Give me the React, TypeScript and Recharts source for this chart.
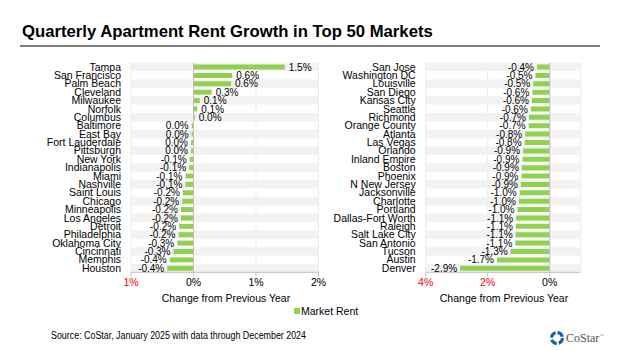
import React from 'react'
import {
  Bar,
  BarChart,
  CartesianGrid,
  LabelList,
  ReferenceArea,
  ReferenceLine,
  XAxis,
  YAxis
} from 'recharts'

const leftMarkets = [
  'Tampa', 'San Francisco', 'Palm Beach', 'Cleveland', 'Milwaukee', 'Norfolk',
  'Columbus', 'Baltimore', 'East Bay', 'Fort Lauderdale', 'Pittsburgh', 'New York',
  'Indianapolis', 'Miami', 'Nashville', 'Saint Louis', 'Chicago', 'Minneapolis',
  'Los Angeles', 'Detroit', 'Philadelphia', 'Oklahoma City', 'Cincinnati', 'Memphis',
  'Houston'
]
const leftRent = [
  1.46, 0.62, 0.6, 0.29, 0.1, 0.06, 0.02, -0.03, -0.03, -0.04, -0.04, -0.06, -0.07,
  -0.13, -0.13, -0.17, -0.18, -0.2, -0.2, -0.23, -0.24, -0.26, -0.32, -0.38, -0.42
]

const rightMarkets = [
  'San Jose', 'Washington DC', 'Louisville', 'San Diego', 'Kansas City', 'Seattle',
  'Richmond', 'Orange County', 'Atlanta', 'Las Vegas', 'Orlando', 'Inland Empire',
  'Boston', 'Phoenix', 'N New Jersey', 'Jacksonville', 'Charlotte', 'Portland',
  'Dallas-Fort Worth', 'Raleigh', 'Salt Lake City', 'San Antonio', 'Tucson', 'Austin',
  'Denver'
]
const rightRent = [
  -0.41, -0.46, -0.53, -0.56, -0.57, -0.61, -0.67, -0.68, -0.79, -0.81, -0.86, -0.88,
  -0.9, -0.91, -0.93, -0.97, -0.99, -1.04, -1.08, -1.09, -1.1, -1.11, -1.26, -1.7, -2.89
]

const leftTicks = [-1, 0, 1, 2]
const rightTicks = [-4, -2, 0]

const FONT = "Arial, 'Liberation Sans', sans-serif"
const GREEN = '#92D050'

const fmt = (v: number) => {
  const s = v.toFixed(1)
  return (s === '-0.0' ? '0.0' : s) + '%'
}

const ValueLabel = (props: any) => {
  const { x, y, width, height, value } = props
  const v = Number(value)
  const x0 = Math.min(x, x + width)
  const x1 = Math.max(x, x + width)
  const pos = v >= 0
  return (
    <text
      x={pos ? x1 + 4 : x0 - 3}
      y={y + height / 2}
      dy="0.36em"
      textAnchor={pos ? 'start' : 'end'}
      fontSize={10}
      fill="#000"
    >
      {fmt(v)}
    </text>
  )
}

const PctTick = (props: any) => {
  const { x, y, payload } = props
  const v = payload.value
  return (
    <text x={x} y={y} dy="0.71em" textAnchor="middle" fontSize={10.5} fill={v < 0 ? '#FF0000' : '#000'}>
      {Math.abs(v) + '%'}
    </text>
  )
}

function Panel(props: {
  markets: string[]
  values: number[]
  domain: [number, number]
  ticks: number[]
  width: number
  yWidth: number
  right: number
}) {
  const { markets, values, domain, ticks, width, yWidth, right } = props
  const rows = markets.map((name, i) => ({ name, rent: values[i] }))
  return (
    <BarChart
      width={width}
      height={300}
      data={rows}
      layout="vertical"
      margin={{ top: 62.7, right, bottom: 7.7, left: 0 }}
      barCategoryGap="22%"
    >
      {rows.map((r, i) =>
        i % 2 === 0 ? (
          <ReferenceArea key={r.name} y1={r.name} y2={r.name} fill="#f2f2f2" fillOpacity={1} stroke="none" />
        ) : null
      )}
      <CartesianGrid horizontal={false} stroke="#ebebeb" />
      <XAxis
        type="number"
        domain={domain}
        ticks={ticks}
        allowDataOverflow
        height={20}
        stroke="#bfbfbf"
        tickSize={4}
        tickMargin={2}
        tick={<PctTick />}
      />
      <YAxis
        type="category"
        dataKey="name"
        width={yWidth}
        axisLine={false}
        tickLine={false}
        tickSize={8}
        tickMargin={2}
        interval={0}
        tick={{ fill: '#000', fontSize: 10.5 }}
      />
      <ReferenceLine x={0} stroke="#bfbfbf" />
      <Bar dataKey="rent" fill={GREEN} isAnimationActive={false}>
        <LabelList dataKey="rent" content={<ValueLabel />} />
      </Bar>
    </BarChart>
  )
}

export default function App() {
  return (
    <div
      style={{
        position: 'absolute',
        left: 0,
        top: 0,
        width: 624,
        height: 351,
        background: '#fff',
        fontFamily: FONT,
        overflow: 'hidden'
      }}
    >
      <div style={{ position: 'absolute', left: 0, top: 0 }}>
        <Panel markets={leftMarkets} values={leftRent} domain={[-1, 2]} ticks={leftTicks} width={330} yWidth={131} right={11.5} />
      </div>
      <div style={{ position: 'absolute', left: 300, top: 0 }}>
        <Panel markets={rightMarkets} values={rightRent} domain={[-4, 1]} ticks={rightTicks} width={290} yWidth={125.7} right={9.3} />
      </div>
      <svg width={624} height={351} style={{ position: 'absolute', left: 0, top: 0, pointerEvents: 'none' }}>
        <text x={22} y={37} fontSize={16.7} fontWeight="bold" fill="#000">
          Quarterly Apartment Rent Growth in Top 50 Markets
        </text>
        <line x1={20} x2={600} y1={46} y2={46} stroke="#808080" strokeWidth={2} />
        <text x={226} y={302} fontSize={10.5} textAnchor="middle" fill="#000">
          Change from Previous Year
        </text>
        <text x={504} y={302} fontSize={10.5} textAnchor="middle" fill="#000">
          Change from Previous Year
        </text>
        <rect x={294} y={308} width={6} height={6} fill={GREEN} />
        <text x={301} y={315} fontSize={10.5} fill="#000">
          Market Rent
        </text>
        <text x={51} y={339} fontSize={10} fill="#000" textLength={255} lengthAdjust="spacingAndGlyphs">
          Source: CoStar, January 2025 with data through December 2024
        </text>
        <circle
          cx={557}
          cy={338}
          r={5.5}
          fill="none"
          stroke="#1f5fa8"
          strokeWidth={3}
          strokeDasharray="6.6 2"
        />
        <text x={566} y={342} fill="#555" fontFamily="'Liberation Serif', 'DejaVu Serif', serif">
          <tspan fontSize={12}>CoStar</tspan>
          <tspan fontSize={5} dx={1} dy={-5}>®</tspan>
        </text>
      </svg>
    </div>
  )
}
